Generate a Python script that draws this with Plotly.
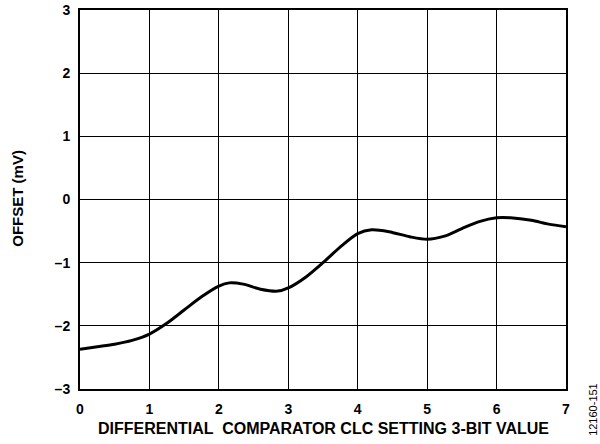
import plotly.graph_objects as go

# offset curve
clc_setting = [0, 0.25, 0.5, 0.75, 1.0, 1.25, 1.5, 1.75, 2.0, 2.15, 2.35, 2.6, 2.85, 3.0, 3.25,
               3.5, 3.75, 4.0, 4.2, 4.45, 4.75, 5.0, 5.25, 5.5, 5.75, 6.0, 6.2, 6.5, 6.75, 7.0]
offset_mv = [-2.37, -2.33, -2.29, -2.23, -2.13, -1.96, -1.75, -1.54, -1.37, -1.32, -1.34, -1.42, -1.45, -1.40, -1.23,
             -1.00, -0.75, -0.54, -0.48, -0.51, -0.59, -0.63, -0.58, -0.46, -0.35, -0.29, -0.29, -0.33, -0.39, -0.43]

x_ticks = [0, 1, 2, 3, 4, 5, 6, 7]
y_ticks = [-3, -2, -1, 0, 1, 2, 3]
y_tick_text = ["–3", "–2", "–1", "0", "1", "2", "3"]

FONT = "Liberation Sans, Arial"

fig = go.Figure()
fig.add_trace(go.Scatter(
    x=clc_setting, y=offset_mv, mode="lines",
    line=dict(color="black", width=3, shape="spline", smoothing=0.8),
    showlegend=False, hoverinfo="skip",
))

fig.update_layout(
    width=600, height=444,
    margin=dict(l=80, r=34, t=10, b=55, autoexpand=False),
    plot_bgcolor="white", paper_bgcolor="white",
    font=dict(family=FONT, color="black"),
)
axis_style = dict(
    showgrid=True, gridcolor="black", gridwidth=1,
    showline=True, linecolor="black", linewidth=2, mirror=True, zeroline=False,
    ticks="", automargin=False,
    tickfont=dict(size=14, family=FONT, weight="bold"),
)
fig.update_xaxes(range=[0, 7], tickvals=x_ticks, ticklabelstandoff=6, **axis_style)
fig.update_yaxes(range=[-3, 3], tickvals=y_ticks, ticktext=y_tick_text, ticklabelstandoff=5, **axis_style)

# axis titles placed as in the reference
fig.add_annotation(
    text="DIFFERENTIAL  COMPARATOR CLC SETTING 3-BIT VALUE", xref="paper", yref="paper",
    x=0.5, y=-0.103, xanchor="center", yanchor="middle", showarrow=False,
    font=dict(size=16, family=FONT, weight="bold"),
)
fig.add_annotation(
    text="OFFSET (mV)", xref="paper", yref="paper",
    x=-0.128, y=0.504, xanchor="center", yanchor="middle", textangle=-90, showarrow=False,
    font=dict(size=15, family=FONT, weight="bold"),
)
fig.add_annotation(
    text="12160-151", xref="paper", yref="paper", x=1.0556, y=-0.055,
    xanchor="center", yanchor="middle", textangle=-90, showarrow=False,
    font=dict(size=11, family=FONT),
)

# drop the default body margin so the figure sits at the window's corner
fig.write_html("out.html", config={"displayModeBar": False},
               post_script="document.body.style.margin = '0';")
